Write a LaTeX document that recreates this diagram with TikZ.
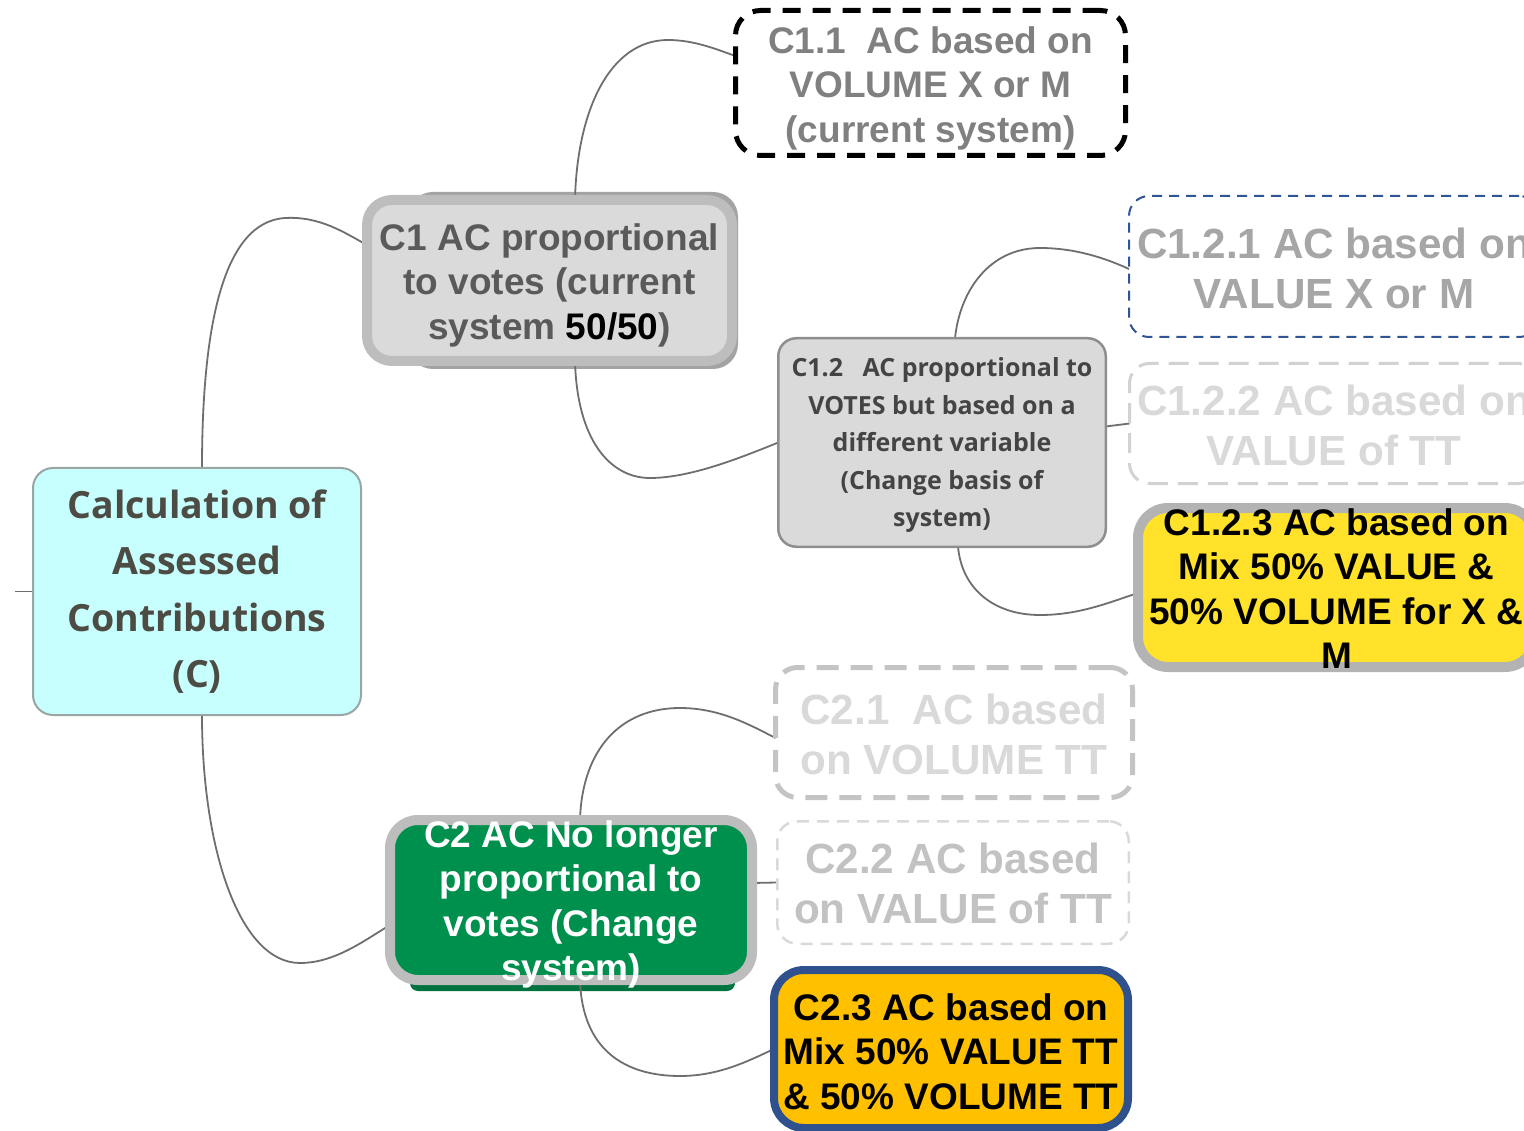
\documentclass[tikz,border=0pt]{standalone}
\usepackage{fontspec}
\setmainfont{Liberation Sans}
\newfontfamily\osans{Open Sans}
\definecolor{connc}{HTML}{6E6E6E}
\definecolor{rootf}{HTML}{C7FFFF}
\definecolor{rootb}{HTML}{9AA5A5}
\definecolor{roott}{HTML}{4C4C44}
\definecolor{grayf}{HTML}{DADADA}
\definecolor{grayb}{HTML}{BDBDBD}
\definecolor{grayshadow}{HTML}{A3A3A3}
\definecolor{c1t}{HTML}{5A5A5A}
\definecolor{c11t}{HTML}{808080}
\definecolor{c12b}{HTML}{8E8E8E}
\definecolor{c12t}{HTML}{444444}
\definecolor{c121b}{HTML}{2F5597}
\definecolor{c121t}{HTML}{A6A6A6}
\definecolor{c122b}{HTML}{D2D2D2}
\definecolor{c122t}{HTML}{D9D9D9}
\definecolor{yel}{HTML}{FFE229}
\definecolor{yelb}{HTML}{B3B3B3}
\definecolor{c21b}{HTML}{C4C4C4}
\definecolor{c21t}{HTML}{D9D9D9}
\definecolor{c22b}{HTML}{D9D9D9}
\definecolor{c22t}{HTML}{C2C2C2}
\definecolor{orng}{HTML}{FFC000}
\definecolor{blueb}{HTML}{2F528F}
\definecolor{grn}{HTML}{00904E}
% #1: raise of the first baseline above the node centre
\newcommand{\lowtext}[2]{\raisebox{#1}[0pt][0pt]{\begin{tabular}[t]{@{}c@{}}#2\end{tabular}}}
\pgfdeclarelayer{bg}
\pgfsetlayers{bg,main}
\tikzset{
  conn/.style={draw=connc, line width=1.8pt},
  nbox/.style={inner sep=0pt, outer sep=0pt, align=center},
  ftarial/.style={font={\bfseries\fontsize{37}{44.5}\selectfont}},
  ftbig/.style={font={\bfseries\fontsize{42.2}{50.5}\selectfont}},
}
\begin{document}
\begin{tikzpicture}[x=1pt,y=1pt]
\useasboundingbox (0,0) rectangle (1524,-1131);
\clip (0,0) rectangle (1524,-1131);
% nodes
\node[nbox, draw=rootb, fill=rootf, line width=2pt, rounded corners=20pt,
  minimum width=328pt, minimum height=247pt, text=roott,
  font={\osans\bfseries\fontsize{37.5}{56.3}\selectfont}] (root) at (197,-591.5)
  {Calculation of\\Assessed\\Contributions\\(C)};
\node[nbox, draw=grayb, fill=grayf, line width=10pt, rounded corners=25pt,
  minimum width=365pt, minimum height=161pt, text=c1t, ftarial] (c1) at (549.5,-280.5)
  {\lowtext{30.3pt}{C1 AC proportional\\to votes (current\\system \textcolor{black}{50/50})}};
\node[nbox, draw=black, line width=5pt, rounded corners=25pt, dash pattern=on 18pt off 12pt,
  minimum width=390pt, minimum height=145pt, text=c11t, ftarial] (c11) at (930.5,-83)
  {\lowtext{29.8pt}{C1.1\ \ AC based on\\VOLUME X or M\\(current system)}};
\node[nbox, draw=c12b, fill=grayf, line width=2.5pt, rounded corners=18pt,
  minimum width=327.5pt, minimum height=208.5pt, text=c12t,
  font={\osans\bfseries\fontsize{25}{37.5}\selectfont}] (c12) at (942,-442.5)
  {\lowtext{65.6pt}{C1.2\ \ \ AC proportional to\\VOTES but based on a\\different variable\\(Change basis of\\system)}};
\node[nbox, draw=c121b, line width=2pt, rounded corners=20pt, dash pattern=on 10pt off 7pt,
  minimum width=410pt, minimum height=141pt, text=c121t, ftbig] (c121) at (1334,-266.5)
  {\lowtext{8.4pt}{C1.2.1 AC based on\\VALUE X or M}};
\node[nbox, draw=c122b, line width=3pt, rounded corners=20pt, dash pattern=on 20pt off 10pt,
  minimum width=409pt, minimum height=120pt, text=c122t, ftbig] (c122) at (1334,-423.5)
  {\lowtext{8.4pt}{C1.2.2 AC based on\\VALUE of TT}};
\node[nbox, draw=yelb, fill=yel, line width=10pt, rounded corners=30pt,
  minimum width=397pt, minimum height=159pt, text=black, ftarial] (c123) at (1336.5,-587.5)
  {\lowtext{52.3pt}{C1.2.3 AC based on\\Mix 50\% VALUE \&\\50\% VOLUME for X \&\\M}};
\node[nbox, draw=c21b, line width=5pt, rounded corners=22pt, dash pattern=on 22pt off 12pt,
  minimum width=357pt, minimum height=130pt, text=c21t, ftbig] (c21) at (954,-732.5)
  {\lowtext{8.4pt}{C2.1\ \ AC based\\on VOLUME TT}};
\node[nbox, draw=c22b, line width=2.5pt, rounded corners=20pt, dash pattern=on 12pt off 8pt,
  minimum width=351.5pt, minimum height=122.5pt, text=c22t, ftbig] (c22) at (953,-882.5)
  {\lowtext{9.4pt}{C2.2 AC based\\on VALUE of TT}};
\node[nbox, draw=blueb, fill=orng, line width=8pt, rounded corners=30pt,
  minimum width=354pt, minimum height=158pt, text=black, ftarial] (c23) at (951,-1049)
  {\lowtext{28.8pt}{C2.3 AC based on\\Mix 50\% VALUE TT\\\& 50\% VOLUME TT}};
\node[nbox, draw=grayb, fill=grn, line width=10pt, rounded corners=28pt,
  minimum width=362pt, minimum height=160pt, text=white, ftarial] (c2) at (571,-900)
  {\lowtext{52.8pt}{C2 AC No longer\\proportional to\\votes (Change\\system)}};
\coordinate (stub) at (15,-591.5);
% connectors and shadows behind
\begin{pgfonlayer}{bg}
  \fill[grayshadow, rounded corners=25pt] (408,-192) rectangle (738,-369);
  \fill[grn!80!black, rounded corners=8pt] (410,-975) rectangle (735,-991);
  \draw[conn] (stub) -- (root.west);
  \draw[conn] ([xshift=5pt]root.north) .. controls (202,-330) and (222,-222) .. (285,-218)
     .. controls (320,-216) and (345,-233) .. ([yshift=35.5pt]c1.west);
  \draw[conn] ([xshift=5pt]root.south) .. controls (202,-850) and (240,-963) .. (300,-963)
     .. controls (335,-963) and (365,-940) .. ([yshift=-25pt]c2.west);
  \draw[conn] ([xshift=25.5pt]c1.north) .. controls (577,-110) and (610,-40) .. (668,-40)
     .. controls (695,-40) and (718,-50) .. ([yshift=27pt]c11.west);
  \draw[conn] ([xshift=25.5pt]c1.south) .. controls (577,-440) and (610,-478) .. (650,-478)
     .. controls (690,-478) and (740,-458) .. (c12.west);
  \draw[conn] ([xshift=13pt]c12.north) .. controls (960,-290) and (990,-248) .. (1040,-248)
     .. controls (1075,-248) and (1105,-258) .. ([yshift=-2.5pt]c121.west);
  \draw[conn] ([yshift=16pt]c12.east) -- (c122.west);
  \draw[conn] ([xshift=16pt]c12.south) .. controls (962,-590) and (995,-615) .. (1040,-615)
     .. controls (1080,-615) and (1110,-602) .. ([yshift=-5.5pt]c123.west);
  \draw[conn] ([xshift=9pt]c2.north) .. controls (582,-750) and (620,-708) .. (680,-708)
     .. controls (720,-708) and (750,-725) .. ([yshift=-5.5pt]c21.west);
  \draw[conn] ([yshift=17pt]c2.east) -- (c22.west);
  \draw[conn] ([xshift=9pt]c2.south) .. controls (582,-1050) and (625,-1076) .. (680,-1076)
     .. controls (720,-1076) and (750,-1060) .. (c23.west);
\end{pgfonlayer}
\end{tikzpicture}
\end{document}
